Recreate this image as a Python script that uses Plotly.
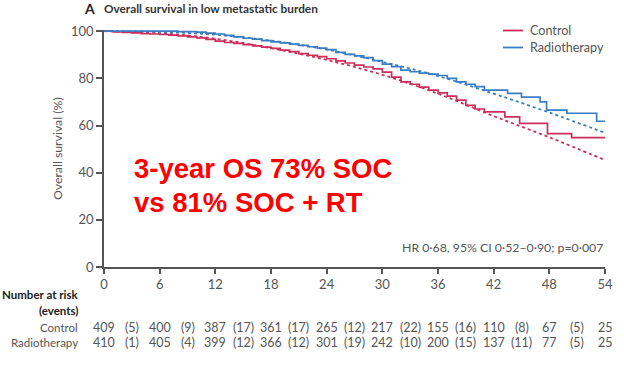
import plotly.graph_objects as go

# ---------------- data ----------------
control_t = [0, 1, 2, 3, 4, 5, 6, 7, 8, 9, 10, 11, 12, 13, 14, 15, 16, 17, 18, 19, 20,
             21, 22, 23, 24, 25, 26, 27, 28, 29, 30, 31, 32, 33, 34, 35, 36, 37, 38, 39,
             40, 41, 43.2, 44.8, 47.8, 50.4, 54.2]
control_s = [100, 99.7, 99.5, 99.3, 99.0, 98.8, 98.6, 98.3, 98.0, 97.6, 97.2, 96.5, 95.8,
             95.2, 94.8, 94.3, 93.8, 93.2, 92.7, 92.0, 91.3, 90.5, 89.8, 89.2, 88.3, 87.4,
             86.5, 85.6, 84.8, 84.0, 82.6, 80.5, 78.5, 77.5, 76.3, 75.0, 73.8, 72.5, 70.8,
             68.5, 67.0, 65.8, 63.7, 60.9, 56.6, 54.9, 54.9]

rt_t = [0, 4, 8, 10, 11, 12, 13, 14, 15, 16, 17, 18, 19, 20, 21, 22, 23, 24, 25, 26, 27,
        28, 29, 30, 31, 32, 33, 34, 35, 36, 37, 38, 39, 40, 41, 43.5, 45, 47, 47.7, 49.9,
        53.1, 54.2]
rt_s = [100, 100, 99.8, 99.6, 99.2, 98.8, 98.2, 97.6, 97.0, 96.6, 96.0, 95.5, 95.0, 94.5,
        94.0, 93.4, 92.8, 92.2, 91.0, 90.2, 89.5, 88.8, 87.5, 86.0, 85.0, 83.5, 82.8, 82.2,
        81.8, 81.2, 80.0, 78.5, 77.5, 76.5, 75.0, 73.6, 72.0, 70.0, 66.5, 65.2, 61.8, 61.8]

fit_t = [0, 6, 12, 18, 24, 30, 36, 42, 48, 54.2]
control_fit = [100, 99.2, 96.8, 92.8, 87.8, 81.5, 73.5, 64.0, 55.0, 45.0]
rt_fit = [100, 99.7, 98.5, 96.0, 92.2, 87.0, 81.0, 73.5, 65.5, 56.6]

x_ticks = [0, 6, 12, 18, 24, 30, 36, 42, 48, 54]
y_ticks = [0, 20, 40, 60, 80, 100]

risk_control = [409, 400, 387, 361, 265, 217, 155, 110, 67, 25]
events_control = [5, 9, 17, 17, 12, 22, 16, 8, 5]
risk_rt = [410, 405, 399, 366, 301, 242, 200, 137, 77, 25]
events_rt = [1, 4, 12, 12, 19, 10, 15, 11, 5]

RED = "#cc2d5a"
BLUE = "#3a7dc2"
GREY = "#555555"
FONT = "Lato"

# ---------------- layout geometry ----------------
W, H = 624, 373
ML, MR, MT, MB = 104, 19, 30, 106
PH = H - MT - MB


def py(pix):
    """pixel y -> paper y"""
    return (H - MB - pix) / PH


def px(pix):
    return (pix - ML) / (W - ML - MR)


fig = go.Figure()

fig.add_trace(go.Scatter(x=fit_t, y=control_fit, mode="lines", line_shape="spline",
                         line=dict(color=RED, width=1.8, dash="3px,3px"), showlegend=False))
fig.add_trace(go.Scatter(x=fit_t, y=rt_fit, mode="lines", line_shape="spline",
                         line=dict(color=BLUE, width=1.8, dash="3px,3px"), showlegend=False))
fig.add_trace(go.Scatter(x=control_t, y=control_s, mode="lines", line_shape="hv",
                         line=dict(color=RED, width=1.7), showlegend=False))
fig.add_trace(go.Scatter(x=rt_t, y=rt_s, mode="lines", line_shape="hv",
                         line=dict(color=BLUE, width=1.7), showlegend=False))

ann = []
shapes = []

# title
ann.append(dict(text="<b>A</b>", x=px(82), y=py(9), xref="paper", yref="paper",
                xanchor="left", yanchor="middle", showarrow=False,
                font=dict(family=FONT, size=14, color="#222")))
ann.append(dict(text="<b>Overall survival in low metastatic burden</b>", x=px(102), y=py(9),
                xref="paper", yref="paper", xanchor="left", yanchor="middle", showarrow=False,
                font=dict(family=FONT, size=11.8, color="#333")))

# y axis title
ann.append(dict(text="Overall survival (%)", x=px(57), y=py(149), xref="paper", yref="paper",
                textangle=-90, xanchor="center", yanchor="middle", showarrow=False,
                font=dict(family=FONT, size=12.3, color=GREY)))

# legend (custom)
for i, (name, col) in enumerate([("Control", RED), ("Radiotherapy", BLUE)]):
    yy = 30.5 + i * 17
    shapes.append(dict(type="line", xref="paper", yref="paper", x0=px(503), x1=px(523),
                       y0=py(yy), y1=py(yy), line=dict(color=col, width=1.8)))
    ann.append(dict(text=name, x=px(528), y=py(yy), xref="paper", yref="paper",
                    xanchor="left", yanchor="middle", showarrow=False,
                    font=dict(family=FONT, size=12.6, color=GREY)))

# HR text
ann.append(dict(text="HR 0·68, 95% CI 0·52–0·90; p=0·007", x=px(605), y=py(247),
                xref="paper", yref="paper", xanchor="right", yanchor="middle", showarrow=False,
                font=dict(family=FONT, size=12.3, color=GREY)))

# red overlay text
for txt, yy in [("3-year OS 73% SOC", 168), ("vs 81% SOC + RT", 202)]:
    ann.append(dict(text="<b>" + txt + "</b>", x=px(132), y=py(yy), xref="paper", yref="paper",
                    xanchor="left", yanchor="middle", showarrow=False,
                    font=dict(family="Liberation Sans", size=27.5, color="#ff0000")))

# number at risk table
ann.append(dict(text="<b>Number at risk</b>", x=px(80), y=py(294), xref="paper", yref="paper",
                xanchor="right", yanchor="middle", showarrow=False,
                font=dict(family=FONT, size=11.5, color="#222")))
ann.append(dict(text="<b>(events)</b>", x=px(80), y=py(310), xref="paper", yref="paper",
                xanchor="right", yanchor="middle", showarrow=False,
                font=dict(family=FONT, size=11.5, color="#222")))
for label, risk, ev, yy in [("Control", risk_control, events_control, 327),
                            ("Radiotherapy", risk_rt, events_rt, 342)]:
    ann.append(dict(text=label, x=px(80), y=py(yy), xref="paper", yref="paper",
                    xanchor="right", yanchor="middle", showarrow=False,
                    font=dict(family=FONT, size=11.5, color=GREY)))
    for t, n in zip(x_ticks, risk):
        ann.append(dict(text=str(n), x=t, y=py(yy), xref="x", yref="paper",
                        xanchor="center", yanchor="middle", showarrow=False,
                        font=dict(family=FONT, size=12.5, color=GREY)))
    for k, e in enumerate(ev):
        ann.append(dict(text=f"({e})", x=x_ticks[k] + 3, y=py(yy), xref="x", yref="paper",
                        xanchor="center", yanchor="middle", showarrow=False,
                        font=dict(family=FONT, size=12.5, color=GREY)))

fig.update_layout(
    width=W, height=H,
    margin=dict(l=ML, r=MR, t=MT, b=MB),
    paper_bgcolor="white", plot_bgcolor="white",
    annotations=ann, shapes=shapes,
    showlegend=False,
    xaxis=dict(range=[0, 54], tickvals=x_ticks, showgrid=False, zeroline=False,
               showline=True, linecolor="#555", linewidth=1.5, ticks="outside",
               ticklen=5, tickwidth=1.5, tickcolor="#555",
               tickfont=dict(family=FONT, size=13, color=GREY)),
    yaxis=dict(range=[0, 100.5], tickvals=y_ticks, showgrid=False, zeroline=False,
               showline=True, linecolor="#555", linewidth=1.5, ticks="outside",
               ticklen=6, tickwidth=1.5, tickcolor="#555",
               tickfont=dict(family=FONT, size=13, color=GREY)),
)

fig.write_html("out.html")
